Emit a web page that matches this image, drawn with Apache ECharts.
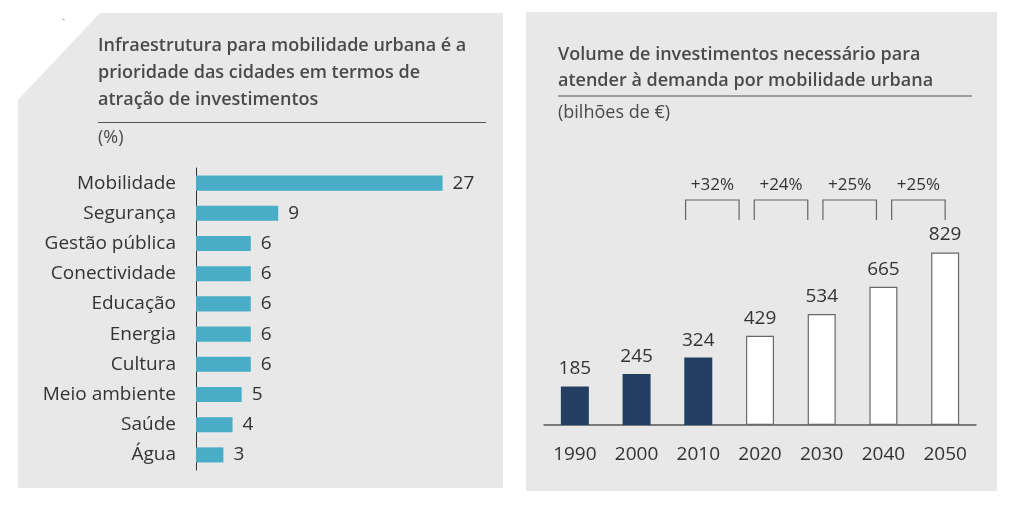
<!DOCTYPE html>
<html><head><meta charset="utf-8">
<script src="https://cdn.jsdelivr.net/npm/echarts@6/dist/echarts.min.js"></script>
<style>html,body{margin:0;padding:0;background:#fff}#c{width:1024px;height:507px}</style>
</head><body><div id="c"></div>
<script>
// ---- data ----
const leftCategories = ['Mobilidade','Segurança','Gestão pública','Conectividade','Educação','Energia','Cultura','Meio ambiente','Saúde','Água'];
const leftValues = [27, 9, 6, 6, 6, 6, 6, 5, 4, 3];
const years = ['1990','2000','2010','2020','2030','2040','2050'];
const investValues = [185, 245, 324, 429, 534, 665, 829];
const isProjection = [false, false, false, true, true, true, true];
const growthLabels = ['+32%','+24%','+25%','+25%'];
const leftTitle = 'Infraestrutura para mobilidade urbana é a\nprioridade das cidades em termos de\natração de investimentos';
const leftUnit = '(%)';
const rightTitle = 'Volume de investimentos necessário para\natender à demanda por mobilidade urbana';
const rightUnit = '(bilhões de €)';

const FONT = '"Open Sans", sans-serif';
const TXT = '#333333';
const chart = echarts.init(document.getElementById('c'));

const option = {
  animation: false,
  backgroundColor: '#ffffff',
  textStyle: { fontFamily: FONT },
  graphic: [
    { type: 'polygon', z: -10, shape: { points: [[100,13],[503,13],[503,488],[18,488],[18,100]] }, style: { fill: '#e8e8e8' } },
    { type: 'rect', z: -10, shape: { x: 526, y: 12, width: 471, height: 479 }, style: { fill: '#e8e8e8' } },
    { type: 'text', left: 62, top: 15, style: { text: '-', fill: '#777', font: '9px ' + FONT } },
    { type: 'text', left: 98, top: 32, style: { text: leftTitle, fill: '#4a4a4a', font: '600 18px ' + FONT, lineHeight: 27 } },
    { type: 'line', shape: { x1: 98, y1: 122.5, x2: 486, y2: 122.5 }, style: { stroke: '#555', lineWidth: 1 } },
    { type: 'text', left: 98, top: 129, style: { text: leftUnit, fill: '#4a4a4a', font: '18px ' + FONT } },
    { type: 'text', left: 558, top: 42, style: { text: rightTitle, fill: '#4a4a4a', font: '600 18px ' + FONT, lineHeight: 26 } },
    { type: 'line', shape: { x1: 558, y1: 96, x2: 972, y2: 96 }, style: { stroke: '#555', lineWidth: 1 } },
    { type: 'text', left: 558, top: 104, style: { text: rightUnit, fill: '#4a4a4a', font: '18px ' + FONT } }
  ],
  grid: [
    { left: 196, top: 168, width: 274, height: 302 },
    { left: 544, top: 217, width: 432, height: 208 }
  ],
  xAxis: [
    { gridIndex: 0, type: 'value', min: 0, max: 30, show: false },
    { gridIndex: 1, type: 'category', data: years,
      axisLine: { lineStyle: { color: '#555', width: 1.5 } }, axisTick: { show: false },
      axisLabel: { color: TXT, fontSize: 19, margin: 20, fontFamily: FONT } }
  ],
  yAxis: [
    { gridIndex: 0, type: 'category', inverse: true, data: leftCategories,
      axisLine: { lineStyle: { color: '#333', width: 1 } }, axisTick: { show: false },
      axisLabel: { color: TXT, fontSize: 19, margin: 20, fontFamily: FONT } },
    { gridIndex: 1, type: 'value', min: 0, max: 1000, show: false, splitLine: { show: false } }
  ],
  series: [
    { type: 'bar', xAxisIndex: 0, yAxisIndex: 0, data: leftValues, barWidth: '50%',
      itemStyle: { color: '#4aadc7' },
      label: { show: true, position: 'right', distance: 10, color: TXT, fontSize: 19, fontFamily: FONT } },
    { type: 'bar', xAxisIndex: 1, yAxisIndex: 1, barWidth: 28,
      data: investValues.map((v, i) => ({
        value: v,
        itemStyle: isProjection[i] ? { color: '#ffffff', borderColor: '#6a6a6a', borderWidth: 1.2 } : { color: '#223f62' }
      })),
      label: { show: true, position: 'top', distance: 8, color: TXT, fontSize: 19, fontFamily: FONT } },
    { type: 'custom', xAxisIndex: 1, yAxisIndex: 1, clip: false, silent: true,
      data: growthLabels.map((g, i) => [i, 0]),
      renderItem: function (params, api) {
        const k = params.dataIndex, n = growthLabels.length;
        const band = api.size([1, 0])[0];
        const lastX = api.coord([years.length - 1, 0])[0];
        const top = api.coord([0, 1000])[1];
        const w = band * 0.867, pitch = band * 1.113;
        const left = lastX - w - (n - 1 - k) * pitch, right = left + w;
        const yT = top - 17, yB = top + 3;
        return { type: 'group', children: [
          { type: 'polyline', shape: { points: [[left, yB], [left, yT], [right, yT], [right, yB]] },
            style: { stroke: '#666', lineWidth: 1.2, fill: null } },
          { type: 'text', style: { text: growthLabels[k], x: (left + right) / 2, y: top - 32,
            align: 'center', verticalAlign: 'middle', fill: TXT, font: '17px ' + FONT } }
        ] };
      } }
  ]
};
chart.setOption(option);
</script></body></html>
